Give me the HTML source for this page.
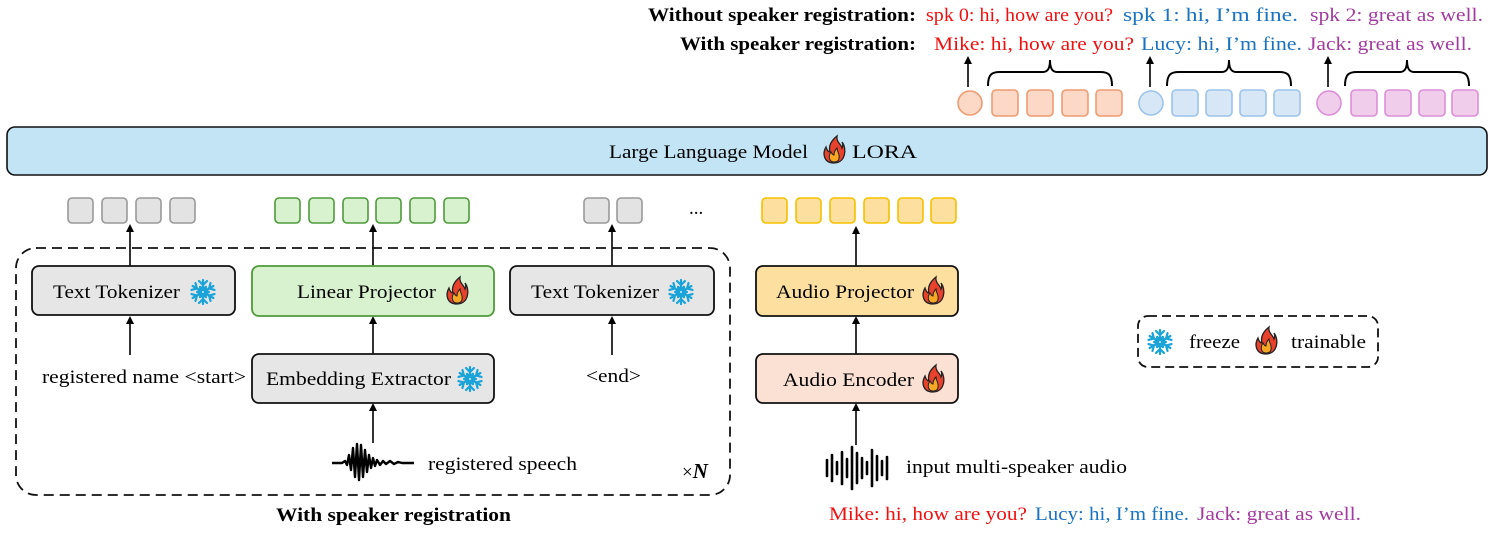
<!DOCTYPE html>
<html><head><meta charset="utf-8"><style>html,body{margin:0;padding:0;background:#fff}svg{display:block}text{font-family:"Liberation Serif",serif;font-size:19px}</style></head><body>
<svg width="1495" height="536" viewBox="0 0 1495 536" xmlns="http://www.w3.org/2000/svg">
<defs>
<marker id="ah" markerWidth="8" markerHeight="8" refX="4" refY="4" orient="auto" markerUnits="userSpaceOnUse"><path d="M0,0 L8,4 L0,8 Z" fill="#000"/></marker>
<g id="snow" stroke="#1aa3d9" stroke-width="2.2" fill="none" stroke-linecap="round">
<g id="arm"><line x1="0" y1="0" x2="0" y2="-12"/><polyline points="-4,-11 0,-7 4,-11"/><polyline points="-3,-5 0,-3 3,-5"/></g>
<use href="#arm" transform="rotate(60)"/><use href="#arm" transform="rotate(120)"/><use href="#arm" transform="rotate(180)"/><use href="#arm" transform="rotate(240)"/><use href="#arm" transform="rotate(300)"/>
<circle r="2" fill="#fff"/>
</g>
<g id="fire"><path d="M0,13 C-10,13 -12,4 -8,-3 C-7,1 -5,2 -4,2 C-6,-5 -2,-10 3,-14 C2,-8 7,-6 8,-2 C9,-4 9,-6 8,-8 C13,-2 12,13 0,13 Z" fill="#e8412c" stroke="#222" stroke-width="1.3"/><path d="M0,12 C-5,12 -6,6 -3,2 C-2,4 -1,5 0,5 C0,1 2,-1 3,-2 C3,2 6,4 5,8 C5,11 3,12 0,12 Z" fill="#f7a823" stroke="#222" stroke-width="1"/></g>
</defs>

<text x="916" y="21" text-anchor="end" font-weight="bold" textLength="268" lengthAdjust="spacingAndGlyphs">Without speaker registration:</text>
<text x="916" y="50" text-anchor="end" font-weight="bold" textLength="236" lengthAdjust="spacingAndGlyphs">With speaker registration:</text>
<text x="926" y="21" fill="#f01010" textLength="187" lengthAdjust="spacingAndGlyphs">spk 0: hi, how are you?</text>
<text x="1123" y="21" fill="#1a73c0" textLength="175" lengthAdjust="spacingAndGlyphs">spk 1: hi, I’m fine.</text>
<text x="1310" y="21" fill="#a23aa0" textLength="173" lengthAdjust="spacingAndGlyphs">spk 2: great as well.</text>
<text x="934" y="50" fill="#f01010" textLength="200" lengthAdjust="spacingAndGlyphs">Mike: hi, how are you?</text>
<text x="1141" y="50" fill="#1a73c0" textLength="161" lengthAdjust="spacingAndGlyphs">Lucy: hi, I’m fine.</text>
<text x="1308" y="50" fill="#a23aa0" textLength="164" lengthAdjust="spacingAndGlyphs">Jack: great as well.</text>

<g stroke-width="1.6">
<line x1="968" y1="87" x2="968" y2="60" stroke="#000" marker-end="url(#ah)"/>
<line x1="1150" y1="87" x2="1150" y2="60" stroke="#000" marker-end="url(#ah)"/>
<line x1="1328" y1="87" x2="1328" y2="60" stroke="#000" marker-end="url(#ah)"/>
<g fill="none" stroke="#000" stroke-width="2">
<path d="M988,86 C988,74 992,72 1000,72 L1043,72 C1048,72 1050,68 1050,60 C1050,68 1052,72 1057,72 L1100,72 C1108,72 1112,74 1112,86"/>
<path d="M1167,86 C1167,74 1171,72 1179,72 L1222,72 C1227,72 1229,68 1229,60 C1229,68 1231,72 1236,72 L1279,72 C1287,72 1291,74 1291,86"/>
<path d="M1345,86 C1345,74 1349,72 1357,72 L1400,72 C1405,72 1407,68 1407,60 C1407,68 1409,72 1414,72 L1457,72 C1465,72 1469,74 1469,86"/>
</g>
<circle cx="970" cy="103" r="12" fill="#fbd9c6" stroke="#ee9b72"/>
<g fill="#fbd9c6" stroke="#ee9b72"><rect x="992" y="90" width="26" height="26" rx="4"/><rect x="1027" y="90" width="26" height="26" rx="4"/><rect x="1062" y="90" width="26" height="26" rx="4"/><rect x="1096" y="90" width="26" height="26" rx="4"/></g>
<circle cx="1151" cy="103" r="12" fill="#d8e7f6" stroke="#9cc3ea"/>
<g fill="#d8e7f6" stroke="#9cc3ea"><rect x="1172" y="90" width="26" height="26" rx="4"/><rect x="1206" y="90" width="26" height="26" rx="4"/><rect x="1240" y="90" width="26" height="26" rx="4"/><rect x="1274" y="90" width="26" height="26" rx="4"/></g>
<circle cx="1329" cy="103" r="12" fill="#f1cdec" stroke="#dc8fd6"/>
<g fill="#f1cdec" stroke="#dc8fd6"><rect x="1351" y="90" width="26" height="26" rx="4"/><rect x="1385" y="90" width="26" height="26" rx="4"/><rect x="1419" y="90" width="26" height="26" rx="4"/><rect x="1452" y="90" width="26" height="26" rx="4"/></g>
</g>

<rect x="7" y="127" width="1480" height="48" rx="8" fill="#c2e4f4" stroke="#111" stroke-width="1.6"/>
<text x="609" y="158" textLength="199" lengthAdjust="spacingAndGlyphs">Large Language Model</text>
<use href="#fire" x="834" y="150"/>
<text x="852" y="158" textLength="65" lengthAdjust="spacingAndGlyphs">LORA</text>

<g fill="#e3e3e3" stroke="#999" stroke-width="1.6">
<rect x="68" y="198" width="25" height="25" rx="4"/><rect x="102" y="198" width="25" height="25" rx="4"/><rect x="136" y="198" width="25" height="25" rx="4"/><rect x="170" y="198" width="25" height="25" rx="4"/>
<rect x="584" y="198" width="25" height="25" rx="4"/><rect x="617" y="198" width="25" height="25" rx="4"/>
</g>
<g fill="#d8f2d0" stroke="#4e9a3a" stroke-width="1.6">
<rect x="275" y="198" width="25" height="25" rx="4"/><rect x="309" y="198" width="25" height="25" rx="4"/><rect x="343" y="198" width="25" height="25" rx="4"/><rect x="376" y="198" width="25" height="25" rx="4"/><rect x="410" y="198" width="25" height="25" rx="4"/><rect x="444" y="198" width="25" height="25" rx="4"/>
</g>
<text x="689" y="214">...</text>
<g fill="#fde0a0" stroke="#f5c000" stroke-width="1.6">
<rect x="762" y="198" width="25" height="25" rx="4"/><rect x="796" y="198" width="25" height="25" rx="4"/><rect x="830" y="198" width="25" height="25" rx="4"/><rect x="864" y="198" width="25" height="25" rx="4"/><rect x="898" y="198" width="25" height="25" rx="4"/><rect x="931" y="198" width="25" height="25" rx="4"/>
</g>

<rect x="16" y="248" width="714" height="247" rx="20" fill="none" stroke="#111" stroke-width="1.8" stroke-dasharray="10,6"/>

<g stroke="#000" stroke-width="1.6" marker-end="url(#ah)">
<line x1="130" y1="266" x2="130" y2="228"/>
<line x1="373" y1="266" x2="373" y2="228"/>
<line x1="612" y1="266" x2="612" y2="228"/>
<line x1="856" y1="266" x2="856" y2="230"/>
<line x1="130" y1="355" x2="130" y2="320"/>
<line x1="373" y1="354" x2="373" y2="320"/>
<line x1="612" y1="355" x2="612" y2="320"/>
<line x1="856" y1="354" x2="856" y2="320"/>
<line x1="373" y1="443" x2="373" y2="407"/>
<line x1="856" y1="445" x2="856" y2="407"/>
</g>

<rect x="32" y="266" width="203" height="49" rx="7" fill="#e6e6e6" stroke="#111" stroke-width="1.8"/>
<text x="53" y="298" textLength="127" lengthAdjust="spacingAndGlyphs">Text Tokenizer</text>
<use href="#snow" x="203" y="292"/>
<rect x="252" y="266" width="242" height="50" rx="7" fill="#d8f2d0" stroke="#4e9a3a" stroke-width="1.8"/>
<text x="297" y="298" textLength="139" lengthAdjust="spacingAndGlyphs">Linear Projector</text>
<use href="#fire" x="457" y="291"/>
<rect x="510" y="266" width="204" height="49" rx="7" fill="#e6e6e6" stroke="#111" stroke-width="1.8"/>
<text x="531" y="298" textLength="128" lengthAdjust="spacingAndGlyphs">Text Tokenizer</text>
<use href="#snow" x="681" y="292"/>
<rect x="252" y="354" width="242" height="49" rx="7" fill="#e6e6e6" stroke="#111" stroke-width="1.8"/>
<text x="266" y="385" textLength="185" lengthAdjust="spacingAndGlyphs">Embedding Extractor</text>
<use href="#snow" x="470" y="379"/>

<text x="42" y="383" textLength="204" lengthAdjust="spacingAndGlyphs">registered name &lt;start&gt;</text>
<text x="586" y="382" textLength="55" lengthAdjust="spacingAndGlyphs">&lt;end&gt;</text>

<polyline points="332,463 342,463 345,461 347,465 349,455 351,470 353,448 355,477 357,444 359,480 361,445 363,477 365,450 367,472 369,455 371,468 373,458 375,466 377,460 380,465 383,461 386,464 390,461 394,464 398,462 402,463 414,463" fill="none" stroke="#000" stroke-width="2.4" stroke-linejoin="round"/>
<text x="428" y="470" textLength="149" lengthAdjust="spacingAndGlyphs">registered speech</text>
<text x="682" y="478" style="font-size:21px"><tspan style="font-size:19px">×</tspan><tspan font-weight="bold" font-style="italic">N</tspan></text>

<text x="276" y="521" font-weight="bold" textLength="235" lengthAdjust="spacingAndGlyphs">With speaker registration</text>

<rect x="756" y="266" width="202" height="50" rx="7" fill="#fddf9f" stroke="#111" stroke-width="1.8"/>
<text x="776" y="298" textLength="138" lengthAdjust="spacingAndGlyphs">Audio Projector</text>
<use href="#fire" x="933" y="291"/>
<rect x="756" y="354" width="202" height="49" rx="7" fill="#fbe0d4" stroke="#111" stroke-width="1.8"/>
<text x="783" y="386" textLength="131" lengthAdjust="spacingAndGlyphs">Audio Encoder</text>
<use href="#fire" x="933" y="379"/>

<g stroke="#000" stroke-width="2.6" stroke-linecap="round">
<line x1="827" y1="460" x2="827" y2="476"/><line x1="832" y1="455" x2="832" y2="481"/><line x1="837" y1="462" x2="837" y2="474"/><line x1="842" y1="452" x2="842" y2="484"/><line x1="847" y1="459" x2="847" y2="477"/><line x1="852" y1="447" x2="852" y2="489"/><line x1="857" y1="453" x2="857" y2="483"/><line x1="862" y1="458" x2="862" y2="478"/><line x1="867" y1="462" x2="867" y2="474"/><line x1="872" y1="450" x2="872" y2="486"/><line x1="877" y1="456" x2="877" y2="480"/><line x1="882" y1="461" x2="882" y2="475"/><line x1="887" y1="457" x2="887" y2="479"/>
</g>
<text x="906" y="473" textLength="221" lengthAdjust="spacingAndGlyphs">input multi-speaker audio</text>
<text x="829" y="520" fill="#f01010" textLength="198" lengthAdjust="spacingAndGlyphs">Mike: hi, how are you?</text>
<text x="1035" y="520" fill="#1a73c0" textLength="154" lengthAdjust="spacingAndGlyphs">Lucy: hi, I’m fine.</text>
<text x="1197" y="520" fill="#a23aa0" textLength="164" lengthAdjust="spacingAndGlyphs">Jack: great as well.</text>

<rect x="1138" y="316" width="240" height="51" rx="10" fill="none" stroke="#111" stroke-width="1.8" stroke-dasharray="9,5"/>
<use href="#snow" x="1160" y="342"/>
<text x="1189" y="348" textLength="51" lengthAdjust="spacingAndGlyphs">freeze</text>
<use href="#fire" x="1266" y="341"/>
<text x="1291" y="348" textLength="75" lengthAdjust="spacingAndGlyphs">trainable</text>
</svg>
</body></html>
